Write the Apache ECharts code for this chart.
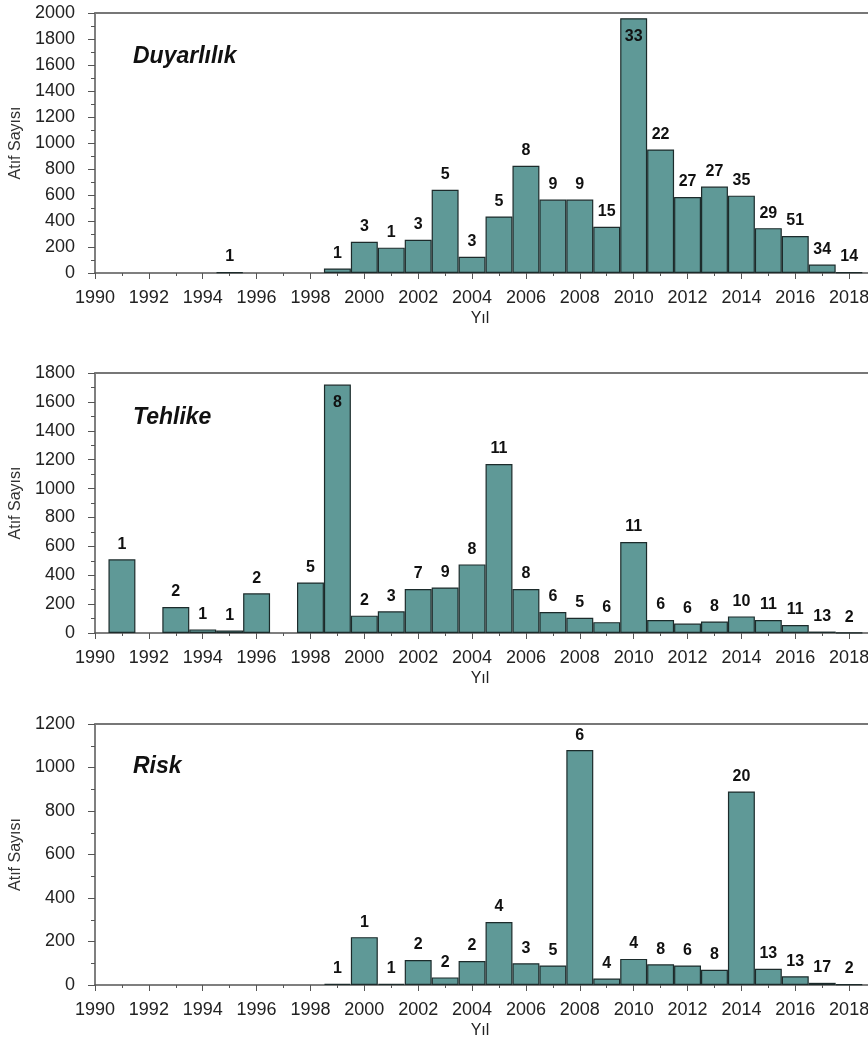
<!DOCTYPE html>
<html>
<head>
<meta charset="utf-8">
<script src="https://cdn.jsdelivr.net/npm/echarts@6/dist/echarts.min.js"></script>
<style>
  html, body { margin: 0; padding: 0; background: #fff; }
  #chart { width: 868px; height: 1043px; }
</style>
</head>
<body>
<div id="chart"></div>
<script>
// years on the x axis
const years = [1990, 1991, 1992, 1993, 1994, 1995, 1996, 1997, 1998, 1999,
               2000, 2001, 2002, 2003, 2004, 2005, 2006, 2007, 2008, 2009,
               2010, 2011, 2012, 2013, 2014, 2015, 2016, 2017, 2018];

// Duyarlılık: citation counts (bar heights) and paper counts (labels)
const duyarlilikCites = [null, null, null, null, null, 5, null, null, null, 35,
                         240, 195, 255, 640, 125, 435, 825, 565, 565, 355,
                         1960, 950, 585, 665, 595, 345, 285, 65, 5];
const duyarlilikPapers = [null, null, null, null, null, 1, null, null, null, 1,
                          3, 1, 3, 5, 3, 5, 8, 9, 9, 15,
                          33, 22, 27, 27, 35, 29, 51, 34, 14];

// Tehlike
const tehlikeCites = [null, 510, null, 180, 25, 18, 275, null, 350, 1720,
                      120, 150, 305, 315, 475, 1170, 305, 145, 105, 75,
                      630, 90, 65, 80, 115, 90, 55, 10, 3];
const tehlikePapers = [null, 1, null, 2, 1, 1, 2, null, 5, 8,
                       2, 3, 7, 9, 8, 11, 8, 6, 5, 6,
                       11, 6, 6, 8, 10, 11, 11, 13, 2];

// Risk
const riskCites = [null, null, null, null, null, null, null, null, null, 5,
                   220, 5, 115, 35, 110, 290, 100, 90, 1080, 30,
                   120, 95, 90, 70, 890, 75, 40, 10, 3];
const riskPapers = [null, null, null, null, null, null, null, null, null, 1,
                    1, 1, 2, 2, 2, 4, 3, 5, 6, 4,
                    4, 8, 6, 8, 20, 13, 13, 17, 2];

const panelNames = ['Duyarlılık', 'Tehlike', 'Risk'];
const panelMax = [2000, 1800, 1200];
const yTickStep = 200;
const xMin = 1990, xMax = 2020, xStep = 2;

const FONT = "'Liberation Sans', Arial, sans-serif";
const barColor = '#5f9997';
const axisColor = '#555';

const panels = [
  { cites: duyarlilikCites, papers: duyarlilikPapers, top: 13, height: 260, titleTop: 45 },
  { cites: tehlikeCites, papers: tehlikePapers, top: 373, height: 260, titleTop: 406 },
  { cites: riskCites, papers: riskPapers, top: 724, height: 261, titleTop: 755 }
];

const gridLeft = 95, gridRight = -35;
const pxPerYear = (868 - gridLeft - gridRight) / (xMax - xMin);

let chart = echarts.init(document.getElementById('chart'));

let grids = [], xAxes = [], yAxes = [], series = [], titles = [];

panels.forEach((p, i) => {
  grids.push({
    left: gridLeft, right: gridRight, top: p.top, height: p.height,
    containLabel: false, outerBoundsMode: 'none'
  });

  titles.push({
    text: panelNames[i],
    left: 133,
    top: p.titleTop,
    padding: 0,
    textStyle: { fontFamily: FONT, fontSize: 23, fontWeight: 'bold', fontStyle: 'italic', color: '#111' }
  });

  // bottom axis with ticks and labels
  xAxes.push({
    gridIndex: i,
    type: 'value',
    position: 'bottom',
    min: xMin,
    max: xMax,
    interval: xStep,
    name: 'Yıl',
    nameLocation: 'middle',
    nameGap: 38,
    nameTextStyle: { fontFamily: FONT, fontSize: 16, color: '#222', padding: [0, 38, 0, 0] },
    axisLine: { show: true, lineStyle: { color: axisColor, width: 1.5 } },
    axisTick: { show: true, length: 6, lineStyle: { color: axisColor } },
    minorTick: { show: true, splitNumber: 2, length: 3, lineStyle: { color: axisColor } },
    axisLabel: {
      fontFamily: FONT, fontSize: 18, color: '#222', margin: 16,
      formatter: v => String(v)
    },
    splitLine: { show: false }
  });
  // top frame line
  xAxes.push({
    gridIndex: i,
    type: 'value',
    position: 'top',
    min: xMin,
    max: xMax,
    axisLine: { show: true, lineStyle: { color: '#777', width: 2 } },
    axisTick: { show: false },
    axisLabel: { show: false },
    splitLine: { show: false }
  });

  yAxes.push({
    gridIndex: i,
    type: 'value',
    min: 0,
    max: panelMax[i],
    interval: yTickStep,
    name: 'Atıf Sayısı',
    nameLocation: 'middle',
    nameGap: 56,
    nameTextStyle: { fontFamily: FONT, fontSize: 16, color: '#333' },
    axisLine: { show: true, lineStyle: { color: axisColor, width: 1.5 } },
    axisTick: { show: true, length: 7, lineStyle: { color: axisColor } },
    minorTick: { show: true, splitNumber: 2, length: 4, lineStyle: { color: axisColor } },
    axisLabel: {
      fontFamily: FONT, fontSize: 18, color: '#222', margin: 20,
      formatter: v => String(v)
    },
    splitLine: { show: false }
  });

  let data = [];
  years.forEach((y, k) => {
    if (p.cites[k] == null) return;
    let item = { value: [y, p.cites[k]], paper: p.papers[k] };
    if (p.cites[k] > 0.9 * panelMax[i]) {
      item.label = { position: 'insideTop', distance: 10 };
    }
    data.push(item);
  });

  series.push({
    name: panelNames[i],
    type: 'bar',
    xAxisIndex: i * 2,
    yAxisIndex: i,
    barWidth: pxPerYear,
    itemStyle: { color: barColor, borderColor: '#1c2b2b', borderWidth: 1.2 },
    label: {
      show: true,
      position: 'top',
      distance: 7,
      fontFamily: FONT,
      fontSize: 16,
      fontWeight: 'bold',
      color: '#111',
      formatter: params => String(params.data.paper)
    },
    data: data
  });
});

chart.setOption({
  backgroundColor: '#fff',
  animation: false,
  title: titles,
  grid: grids,
  xAxis: xAxes,
  yAxis: yAxes,
  series: series
});
</script>
</body>
</html>
